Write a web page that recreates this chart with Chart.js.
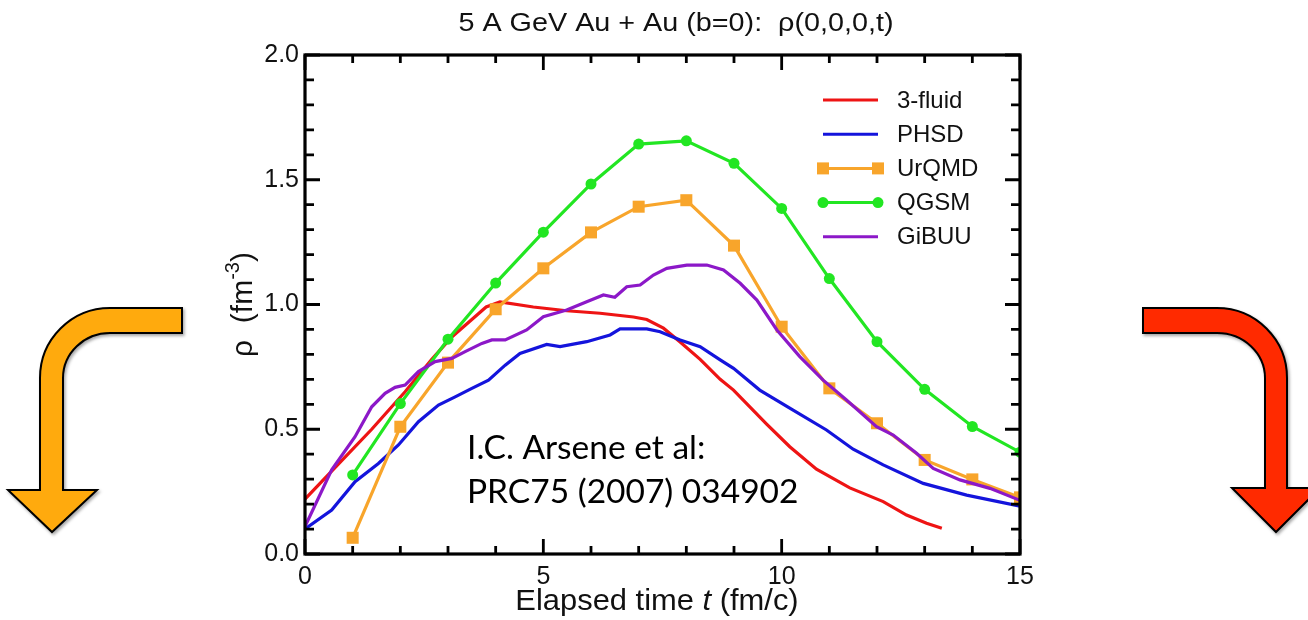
<!DOCTYPE html>
<html><head><meta charset="utf-8">
<script src="https://cdn.jsdelivr.net/npm/chart.js@4.4.1/dist/chart.umd.min.js"></script>
<style>
html,body{margin:0;padding:0;background:#fff;}
#wrap{position:relative;width:1308px;height:620px;overflow:hidden;background:#fff;}
canvas{position:absolute;left:0;top:0;}
svg{position:absolute;left:0;top:0;}
</style></head><body>
<div id="wrap">
<canvas id="c" width="1308" height="620"></canvas>
<svg width="1308" height="620" xmlns="http://www.w3.org/2000/svg">
  <defs><filter id="sh" x="-20%" y="-20%" width="140%" height="140%"><feDropShadow dx="1.5" dy="2" stdDeviation="1.5" flood-color="#000" flood-opacity="0.35"/></filter></defs>
  <path filter="url(#sh)" d="M182,308 L110,308 A70,70 0 0 0 40,378 L40,490 L8,490 L52,532 L97,490 L63,490 L63,378 A47,45 0 0 1 110,333 L182,333 Z" fill="#FFAA0E" stroke="#000" stroke-width="2" stroke-linejoin="miter"/>
  <path filter="url(#sh)" d="M1143,308 L1217,308 A70,70 0 0 1 1287,378 L1287,488 L1320,488 L1276,532 L1232,488 L1265,488 L1265,378 A48,45 0 0 0 1217,333 L1143,333 Z" fill="#FF2A00" stroke="#000" stroke-width="2" stroke-linejoin="miter"/>
</svg>
</div>
<script>
// ---- data ----
const titleText = '5 A GeV Au + Au (b=0):  \u03C1(0,0,0,t)';
const seriesNames = ['3-fluid', 'PHSD', 'UrQMD', 'QGSM', 'GiBUU'];
const seriesColors = ['#EE1414', '#1414DC', '#F8A52B', '#22E622', '#8C18C8'];

const tFluid   = [0, 0.7, 1.4, 2.1, 2.66, 3.08, 3.5, 3.8, 4.09, 4.79, 5.49, 6.19, 6.89, 7.17, 7.52, 7.87, 8.29, 8.71, 8.99, 9.69, 10.17, 10.73, 11.43, 12.13, 12.62, 13.04, 13.36];
const rhoFluid = [0.22, 0.36, 0.50, 0.65, 0.78, 0.87, 0.94, 0.99, 1.01, 0.99, 0.975, 0.965, 0.95, 0.94, 0.905, 0.85, 0.78, 0.70, 0.657, 0.52, 0.43, 0.34, 0.265, 0.21, 0.156, 0.123, 0.103];

const tPHSD   = [0, 0.56, 1.05, 1.54, 1.96, 2.38, 2.8, 3.15, 3.5, 3.85, 4.2, 4.51, 5.07, 5.35, 5.91, 6.4, 6.61, 7.17, 7.45, 7.87, 8.29, 8.71, 8.99, 9.54, 10.24, 10.94, 11.5, 12.13, 12.97, 13.88, 15];
const rhoPHSD = [0.10, 0.176, 0.29, 0.363, 0.437, 0.53, 0.597, 0.63, 0.664, 0.697, 0.757, 0.804, 0.84, 0.831, 0.851, 0.878, 0.902, 0.902, 0.891, 0.858, 0.831, 0.778, 0.744, 0.657, 0.577, 0.497, 0.42, 0.357, 0.283, 0.236, 0.192];

const tModel   = [1, 2, 3, 4, 5, 6, 7, 8, 9, 10, 11, 12, 13, 14, 15];
const rhoUrQMD = [0.065, 0.51, 0.767, 0.981, 1.145, 1.289, 1.392, 1.418, 1.236, 0.911, 0.664, 0.524, 0.377, 0.299, 0.227];
const rhoQGSM  = [0.317, 0.603, 0.861, 1.086, 1.29, 1.483, 1.643, 1.656, 1.566, 1.385, 1.104, 0.851, 0.66, 0.511, 0.408];

const tGiBUU   = [0, 0.56, 1.05, 1.4, 1.68, 1.89, 2.1, 2.38, 2.73, 3.08, 3.36, 3.71, 3.92, 4.2, 4.65, 5.0, 5.49, 5.91, 6.26, 6.5, 6.75, 7.03, 7.31, 7.59, 8.01, 8.43, 8.78, 9.13, 9.48, 9.9, 10.38, 10.87, 11.36, 11.99, 12.34, 12.83, 13.18, 13.74, 14.37, 15];
const rhoGiBUU = [0.11, 0.337, 0.47, 0.59, 0.644, 0.668, 0.677, 0.731, 0.771, 0.784, 0.811, 0.844, 0.858, 0.858, 0.898, 0.951, 0.978, 1.011, 1.038, 1.029, 1.071, 1.078, 1.118, 1.145, 1.158, 1.158, 1.138, 1.085, 1.018, 0.898, 0.791, 0.697, 0.617, 0.51, 0.477, 0.404, 0.343, 0.297, 0.263, 0.215];

const xTickLabels = [0, 5, 10, 15];
const yTickLabels = [0.0, 0.5, 1.0, 1.5, 2.0];
const annotationLines = ['I.C. Arsene et al:', 'PRC75 (2007) 034902'];

// ---- helpers ----
const pts = (xs, ys) => xs.map((v, i) => ({x: v, y: ys[i]}));
const SANS = '"Liberation Sans", Arial, Helvetica, sans-serif';

const decor = {
  id: 'decor',
  beforeDraw(chart) {
    const ctx = chart.ctx;
    ctx.save(); ctx.fillStyle = '#fff'; ctx.fillRect(0, 0, chart.width, chart.height); ctx.restore();
  },
  afterDraw(chart) {
    const {ctx, chartArea: a, scales: {x, y}} = chart;
    ctx.save();
    // frame
    ctx.strokeStyle = '#000'; ctx.lineWidth = 3.2;
    ctx.strokeRect(a.left, a.top, a.right - a.left, a.bottom - a.top);
    // inward ticks on all sides
    ctx.lineWidth = 2.8; ctx.lineCap = 'butt';
    ctx.beginPath();
    for (let i = 0; i <= 15; i++) {
      const px = x.getPixelForValue(i); const len = (i % 5 === 0) ? 15 : 8;
      ctx.moveTo(px, a.bottom); ctx.lineTo(px, a.bottom - len);
      ctx.moveTo(px, a.top); ctx.lineTo(px, a.top + len);
    }
    for (let j = 0; j <= 20; j++) {
      const py = y.getPixelForValue(j / 10); const len = (j % 5 === 0) ? 15 : 9;
      ctx.moveTo(a.left, py); ctx.lineTo(a.left + len, py);
      ctx.moveTo(a.right, py); ctx.lineTo(a.right - len, py);
    }
    ctx.stroke();

    // title (slightly stretched horizontally like the source figure)
    ctx.fillStyle = '#111';
    ctx.save();
    ctx.translate(676, 24); ctx.scale(1.15, 1);
    ctx.font = '25px ' + SANS; ctx.textAlign = 'center'; ctx.textBaseline = 'middle';
    ctx.fillText(titleText, 0, 0);
    ctx.restore();

    // x axis title with italic t
    const xt = ['Elapsed time ', 't', ' (fm/c)'];
    const fN = '30px ' + SANS, fI = 'italic 30px ' + SANS;
    ctx.font = fN; const w0 = ctx.measureText(xt[0]).width, w2 = ctx.measureText(xt[2]).width;
    ctx.font = fI; const w1 = ctx.measureText(xt[1]).width;
    ctx.save();
    ctx.translate(657, 610); ctx.scale(1.03, 1);
    let sx = -(w0 + w1 + w2) / 2;
    ctx.textAlign = 'left'; ctx.textBaseline = 'alphabetic';
    ctx.font = fN; ctx.fillText(xt[0], sx, 0); sx += w0;
    ctx.font = fI; ctx.fillText(xt[1], sx, 0); sx += w1;
    ctx.font = fN; ctx.fillText(xt[2], sx, 0);
    ctx.restore();

    // y axis title rho (fm^-3)
    ctx.save();
    ctx.translate(252, (a.top + a.bottom) / 2); ctx.rotate(-Math.PI / 2);
    const yA = '\u03C1  (fm', yS = '-3', yB = ')';
    const fY = '30px ' + SANS, fS = '20px ' + SANS;
    ctx.font = fY; const wa = ctx.measureText(yA).width, wb = ctx.measureText(yB).width;
    ctx.font = fS; const ws = ctx.measureText(yS).width;
    let tx = -(wa + ws + wb) / 2;
    ctx.textAlign = 'left'; ctx.textBaseline = 'alphabetic';
    ctx.font = fY; ctx.fillText(yA, tx, 0); tx += wa;
    ctx.font = fS; ctx.fillText(yS, tx, -13); tx += ws;
    ctx.font = fY; ctx.fillText(yB, tx, 0);
    ctx.restore();

    // legend (inside, top-right)
    const ds = chart.data.datasets;
    ctx.font = '24px ' + SANS; ctx.textAlign = 'left'; ctx.textBaseline = 'middle';
    [0, 1, 2, 3, 4].forEach((k, r) => {
      const d = ds[k]; const ly = 100 + r * 34.2;
      ctx.strokeStyle = d.borderColor; ctx.lineWidth = 3;
      ctx.beginPath(); ctx.moveTo(823, ly); ctx.lineTo(878, ly); ctx.stroke();
      if (d.pointRadius > 0) {
        ctx.fillStyle = d.borderColor;
        [823, 878].forEach(mx => {
          ctx.beginPath();
          if (d.pointStyle === 'rect') ctx.rect(mx - 6, ly - 6, 12, 12);
          else ctx.arc(mx, ly, 5.5, 0, Math.PI * 2);
          ctx.fill();
        });
      }
      ctx.fillStyle = '#111'; ctx.fillText(d.label, 897, ly + 1);
    });

    // annotation
    ctx.fillStyle = '#000'; ctx.font = '33.5px Lato, "Open Sans", sans-serif';
    ctx.textAlign = 'left'; ctx.textBaseline = 'alphabetic';
    ctx.fillText(annotationLines[0], 467, 459);
    ctx.fillText(annotationLines[1], 467, 503);
    ctx.restore();
  }
};

const ds = (i, data, extra) => Object.assign({
  label: seriesNames[i], data, borderColor: seriesColors[i], backgroundColor: seriesColors[i],
  borderWidth: 3.2, pointRadius: 0, tension: 0, fill: false
}, extra || {});

new Chart(document.getElementById('c'), {
  type: 'line',
  data: {
    datasets: [
      ds(0, pts(tFluid, rhoFluid), {order: 4}),
      ds(1, pts(tPHSD, rhoPHSD), {order: 3}),
      ds(2, pts(tModel, rhoUrQMD), {order: 2, pointStyle: 'rect', pointRadius: 8.5, pointBorderWidth: 0}),
      ds(3, pts(tModel, rhoQGSM), {order: 1, pointStyle: 'circle', pointRadius: 5.5, pointBorderWidth: 0}),
      ds(4, pts(tGiBUU, rhoGiBUU), {order: 0})
    ]
  },
  options: {
    responsive: false, animation: false, devicePixelRatio: 1,
    layout: {padding: {top: 55, right: 288, left: 0, bottom: 0}},
    plugins: {legend: {display: false}, title: {display: false}, tooltip: {enabled: false}},
    scales: {
      x: {
        type: 'linear', min: 0, max: 15,
        afterFit: s => { s.height = 66; },
        afterBuildTicks: s => { s.ticks = xTickLabels.map(v => ({value: v})); },
        grid: {display: false, drawTicks: false}, border: {display: false},
        ticks: {padding: 8, color: '#111', font: {family: SANS, size: 25}, maxRotation: 0, callback: v => String(v)}
      },
      y: {
        type: 'linear', min: 0, max: 2,
        afterFit: s => { s.width = 305; },
        afterBuildTicks: s => { s.ticks = yTickLabels.map(v => ({value: v})); },
        grid: {display: false, drawTicks: false}, border: {display: false},
        ticks: {padding: 6, color: '#111', font: {family: SANS, size: 25}, callback: v => Number(v).toFixed(1)}
      }
    }
  },
  plugins: [decor]
});
</script>
</body></html>
